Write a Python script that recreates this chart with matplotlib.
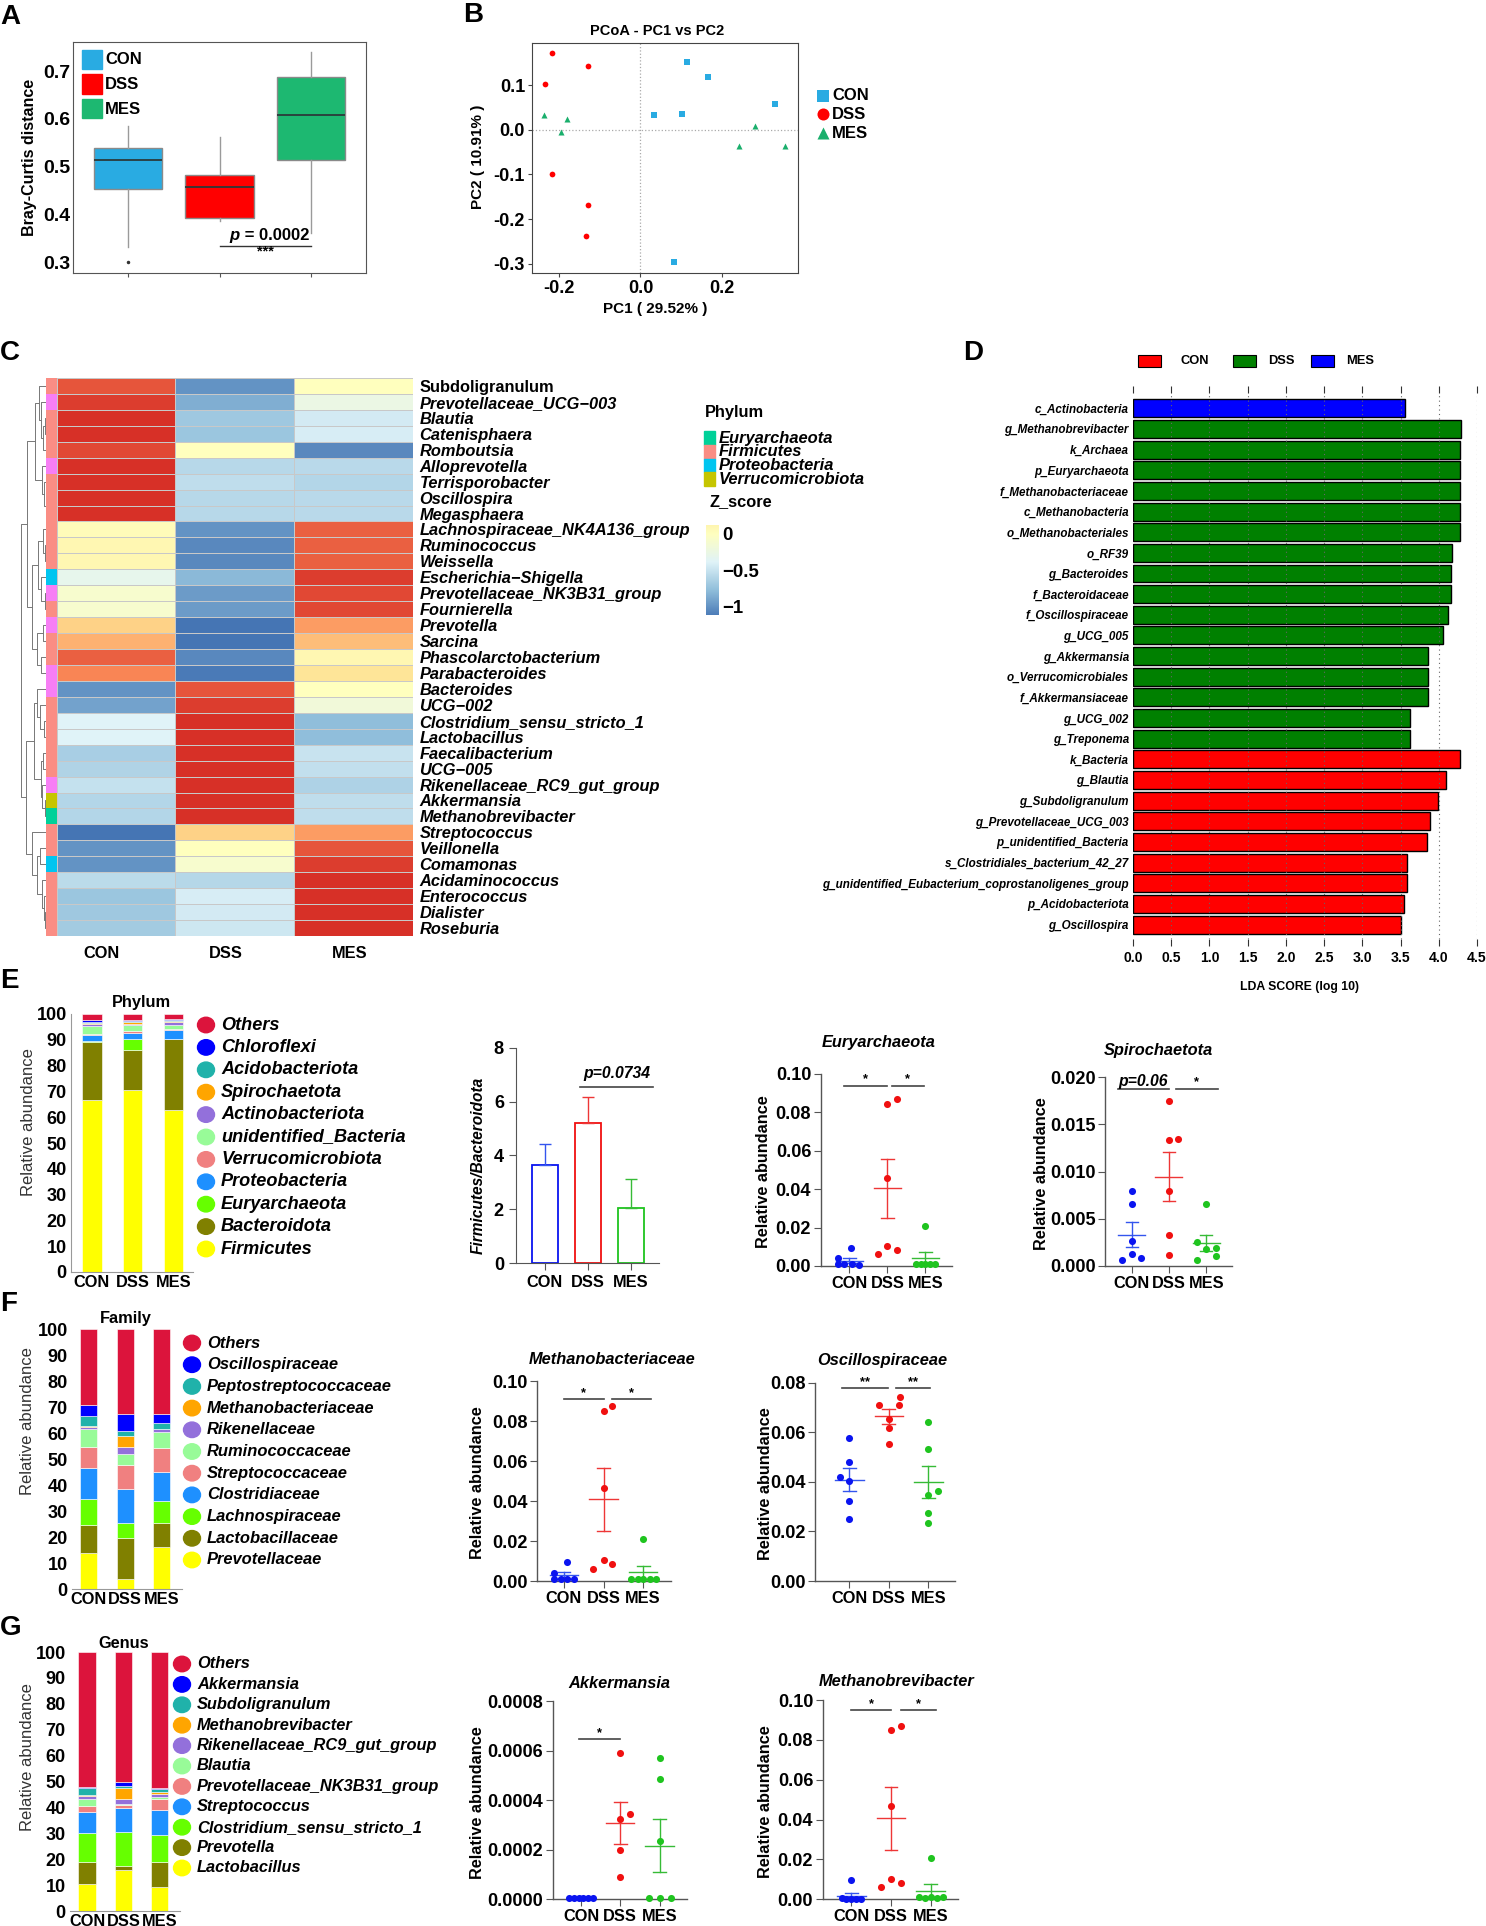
import numpy as np
import matplotlib
matplotlib.use("Agg")
import matplotlib.pyplot as plt
from matplotlib import font_manager
from matplotlib.patches import Ellipse, Rectangle
from matplotlib.colors import LinearSegmentedColormap, Normalize

W, H = 1486, 1926

_names = {f.name for f in font_manager.fontManager.ttflist}
if "Liberation Sans Narrow" in _names:
    NARROW, K = "Liberation Sans Narrow", 1.0
else:
    NARROW, K = "Liberation Sans", 0.84
REG = "Liberation Sans"
plt.rcParams["font.family"] = [REG, "DejaVu Sans"]

groups = ["CON", "DSS", "MES"]

# ---------------- A: Bray-Curtis distance (box summaries)
bc_q1 = [0.454, 0.392, 0.513]
bc_med = [0.513, 0.457, 0.607]
bc_q3 = [0.539, 0.482, 0.688]
bc_whislo = [0.332, 0.386, 0.360]
bc_whishi = [0.585, 0.561, 0.739]
bc_fliers = [[0.300], [], []]

# ---------------- B: PCoA
pc_con_x = [0.114, 0.164, 0.033, 0.101, 0.328, 0.082]
pc_con_y = [0.152, 0.118, 0.034, 0.035, 0.059, -0.297]
pc_dss_x = [-0.217, -0.128, -0.233, -0.215, -0.127, -0.133]
pc_dss_y = [0.173, 0.144, 0.103, -0.100, -0.168, -0.238]
pc_mes_x = [-0.235, -0.180, -0.193, 0.281, 0.241, 0.353]
pc_mes_y = [0.034, 0.025, -0.005, 0.008, -0.035, -0.036]

# ---------------- C: heatmap (z-scores)
genera = ["Subdoligranulum", "Prevotellaceae_UCG\u2212003", "Blautia", "Catenisphaera",
          "Romboutsia", "Alloprevotella", "Terrisporobacter", "Oscillospira", "Megasphaera",
          "Lachnospiraceae_NK4A136_group", "Ruminococcus", "Weissella",
          "Escherichia\u2212Shigella", "Prevotellaceae_NK3B31_group", "Fournierella",
          "Prevotella", "Sarcina", "Phascolarctobacterium", "Parabacteroides", "Bacteroides",
          "UCG\u2212002", "Clostridium_sensu_stricto_1", "Lactobacillus", "Faecalibacterium",
          "UCG\u2212005", "Rikenellaceae_RC9_gut_group", "Akkermansia", "Methanobrevibacter",
          "Streptococcus", "Veillonella", "Comamonas", "Acidaminococcus", "Enterococcus",
          "Dialister", "Roseburia"]
z_con = [1.00, 1.10, 1.15, 1.15, 1.05, 1.15, 1.15, 1.15, 1.15, 0.05, 0.10, 0.10, -0.30,
         -0.10, -0.10, 0.45, 0.60, 0.95, 0.80, -1.00, -0.92, -0.38, -0.38, -0.65, -0.62,
         -0.52, -0.60, -0.60, -1.15, -1.00, -1.00, -0.56, -0.72, -0.70, -0.68]
z_dss = [-1.00, -0.85, -0.70, -0.72, 0.00, -0.58, -0.55, -0.58, -0.58, -1.00, -1.05, -1.05,
         -0.80, -0.95, -0.95, -1.15, -1.15, -1.05, -1.12, 1.00, 1.10, 1.15, 1.15, 1.15, 1.15,
         1.15, 1.15, 1.15, 0.45, 0.00, -0.10, -0.59, -0.43, -0.45, -0.47]
z_mes = [0.00, -0.25, -0.45, -0.43, -1.05, -0.57, -0.60, -0.57, -0.57, 0.95, 0.95, 0.95,
         1.10, 1.05, 1.05, 0.70, 0.55, 0.10, 0.32, 0.00, -0.18, -0.77, -0.77, -0.50, -0.53,
         -0.63, -0.55, -0.55, 0.70, 1.00, 1.10, 1.15, 1.15, 1.15, 1.15]
row_phylum = ["Firmicutes", "Bacteroidota", "Firmicutes", "Firmicutes", "Firmicutes",
              "Bacteroidota", "Firmicutes", "Firmicutes", "Firmicutes", "Firmicutes",
              "Firmicutes", "Firmicutes", "Proteobacteria", "Bacteroidota", "Firmicutes",
              "Bacteroidota", "Firmicutes", "Firmicutes", "Bacteroidota", "Bacteroidota",
              "Firmicutes", "Firmicutes", "Firmicutes", "Firmicutes", "Firmicutes",
              "Bacteroidota", "Verrucomicrobiota", "Euryarchaeota", "Firmicutes", "Firmicutes",
              "Proteobacteria", "Firmicutes", "Firmicutes", "Firmicutes", "Firmicutes"]
legend_phyla = ["Euryarchaeota", "Firmicutes", "Proteobacteria", "Verrucomicrobiota"]
# row clustering (height, left, right)
clA = (0.45, (0.30, 0, (0.22, 1, (0.12, (0.06, 2, 3), 4))), (0.18, 5, (0.08, 6, (0.03, 7, 8))))
clB = (0.55, (0.32, (0.12, 9, (0.05, 10, 11)), (0.22, 12, (0.06, 13, 14))),
       (0.35, (0.15, 15, 16), (0.22, 17, 18)))
clC = (0.50, (0.38, 19, (0.25, 20, (0.10, 21, 22))),
       (0.22, (0.12, 23, 24), (0.16, 25, (0.06, 26, 27))))
clD = (0.55, 28, (0.38, (0.25, 29, 30), (0.18, 31, (0.10, 32, (0.05, 33, 34)))))
row_tree = (1.0, (0.75, clA, clB), (0.8, clC, clD))

# ---------------- D: LEfSe
lda_labels = ["c_Actinobacteria", "g_Methanobrevibacter", "k_Archaea", "p_Euryarchaeota",
              "f_Methanobacteriaceae", "c_Methanobacteria", "o_Methanobacteriales", "o_RF39",
              "g_Bacteroides", "f_Bacteroidaceae", "f_Oscillospiraceae", "g_UCG_005",
              "g_Akkermansia", "o_Verrucomicrobiales", "f_Akkermansiaceae", "g_UCG_002",
              "g_Treponema", "k_Bacteria", "g_Blautia", "g_Subdoligranulum",
              "g_Prevotellaceae_UCG_003", "p_unidentified_Bacteria",
              "s_Clostridiales_bacterium_42_27",
              "g_unidentified_Eubacterium_coprostanoligenes_group", "p_Acidobacteriota",
              "g_Oscillospira"]
lda_scores = [3.56, 4.285, 4.28, 4.28, 4.28, 4.28, 4.28, 4.17, 4.16, 4.16, 4.12, 4.05,
              3.86, 3.86, 3.86, 3.62, 3.62, 4.28, 4.10, 3.99, 3.88, 3.84, 3.59, 3.59,
              3.54, 3.51]
lda_group = ["MES"] + ["DSS"] * 16 + ["CON"] * 9

# ---------------- E/F/G: stacked composition (%)
phylum_names = ["Firmicutes", "Bacteroidota", "Euryarchaeota", "Proteobacteria",
                "Verrucomicrobiota", "unidentified_Bacteria", "Actinobacteriota",
                "Spirochaetota", "Acidobacteriota", "Chloroflexi", "Others"]
phylum_con = [66.6, 22.7, 0.3, 2.3, 0.4, 3.0, 1.0, 0.3, 0.4, 0.5, 2.5]
phylum_dss = [70.5, 15.5, 4.2, 2.4, 1.0, 2.0, 0.5, 0.7, 0.4, 0.5, 2.3]
phylum_mes = [62.7, 27.6, 0.2, 3.4, 0.3, 1.4, 1.2, 0.3, 0.5, 0.4, 2.0]

family_names = ["Prevotellaceae", "Lactobacillaceae", "Lachnospiraceae", "Clostridiaceae",
                "Streptococcaceae", "Ruminococcaceae", "Rikenellaceae", "Methanobacteriaceae",
                "Peptostreptococcaceae", "Oscillospiraceae", "Others"]
family_con = [14.0, 10.5, 10.2, 11.7, 8.1, 6.9, 1.1, 0.2, 3.9, 4.0, 29.4]
family_dss = [3.9, 15.6, 5.8, 13.0, 9.5, 4.1, 2.8, 4.1, 1.9, 6.5, 32.8]
family_mes = [16.1, 9.3, 8.4, 11.2, 9.3, 5.9, 1.2, 0.2, 2.1, 3.7, 32.6]

genus_names = ["Lactobacillus", "Prevotella", "Clostridium_sensu_stricto_1", "Streptococcus",
               "Prevotellaceae_NK3B31_group", "Blautia", "Rikenellaceae_RC9_gut_group",
               "Methanobrevibacter", "Subdoligranulum", "Akkermansia", "Others"]
genus_con = [10.3, 8.6, 11.2, 8.1, 2.3, 2.9, 1.0, 0.3, 2.8, 0.2, 52.3]
genus_dss = [15.7, 1.5, 13.2, 9.4, 1.0, 0.4, 2.2, 4.2, 0.7, 1.4, 50.3]
genus_mes = [9.3, 9.6, 10.4, 9.6, 4.2, 0.9, 1.0, 0.8, 1.4, 0.4, 52.4]

# Firmicutes/Bacteroidota ratio
fb_mean = [3.65, 5.19, 2.06]
fb_sem = [0.77, 0.97, 1.06]

# per-animal relative abundances
eury_con = [0.0043, 0.0095, 0.0010, 0.0008, 0.0010, 0.0005]
eury_dss = [0.0845, 0.0870, 0.0460, 0.0106, 0.0060, 0.0083]
eury_mes = [0.0208, 0.0009, 0.0008, 0.0010, 0.0009, 0.0008]
spiro_con = [0.0080, 0.0066, 0.0026, 0.0013, 0.0009, 0.0006]
spiro_dss = [0.0175, 0.0134, 0.0135, 0.0079, 0.0033, 0.0012]
spiro_mes = [0.0066, 0.0025, 0.0018, 0.0019, 0.0011, 0.0006]
mbac_con = [0.0042, 0.0095, 0.0012, 0.0012, 0.0012, 0.0012]
mbac_dss = [0.0850, 0.0875, 0.0467, 0.0107, 0.0062, 0.0085]
mbac_mes = [0.0208, 0.0012, 0.0012, 0.0012, 0.0012, 0.0012]
osc_con = [0.0575, 0.0479, 0.0421, 0.0405, 0.0324, 0.0250]
osc_dss = [0.0742, 0.0710, 0.0709, 0.0653, 0.0617, 0.0553]
osc_mes = [0.0641, 0.0534, 0.0347, 0.0364, 0.0273, 0.0235]
akk_con = [0.000004, 0.000004, 0.000004, 0.000004, 0.000004, 0.000004]
akk_dss = [0.000589, 0.000343, 0.000324, 0.000199, 0.000089]
akk_mes = [0.000571, 0.000484, 0.000235, 0.000004, 0.000004, 0.000004]
mbrev_con = [0.0095, 0.0005, 0.0003, 0.0002, 0.0002, 0.0003]
mbrev_dss = [0.0848, 0.0870, 0.0467, 0.0104, 0.0062, 0.0082]
mbrev_mes = [0.0209, 0.0010, 0.0008, 0.0010, 0.0008, 0.0010]

# ---------------- styles
box_cols = ["#29ABE2", "#FF0000", "#1DB871"]
stack_cols = ["#FFFF00", "#808000", "#66FF00", "#1E90FF", "#F08080", "#98FB98",
              "#9370DB", "#FFA500", "#20B2AA", "#0000FF", "#DC143C"]
phy_col = {"Firmicutes": "#FA8D84", "Bacteroidota": "#F77EF5", "Proteobacteria": "#00C5F0",
           "Verrucomicrobiota": "#C5C500", "Euryarchaeota": "#00D199"}
lda_col = {"CON": "#FF0000", "DSS": "#008000", "MES": "#0000FF"}
dot_cols = ["#0A14F0", "#F01010", "#1FC41F"]
err_cols = ["#3355EE", "#EE3636", "#36BB36"]

fig = plt.figure(figsize=(W / 100, H / 100), dpi=100)


def add_ax(x0, y0, x1, y1):
    return fig.add_axes([x0 / W, 1 - y1 / H, (x1 - x0) / W, (y1 - y0) / H])


ov = add_ax(0, 0, W, H)
ov.set_xlim(0, W)
ov.set_ylim(H, 0)
ov.axis("off")
ov.set_zorder(10)


def T(x, y, s, size, family=None, weight="bold", style="normal", ha="left", va="center",
      rot=0, color="black"):
    ov.text(x, y, s, fontsize=size, family=family or NARROW, fontweight=weight,
            fontstyle=style, ha=ha, va=va, rotation=rot, color=color)


def nfont(size, style="normal", weight="bold"):
    return dict(fontsize=size, family=NARROW, fontweight=weight, fontstyle=style)


# panel letters
for lab, x, y in [("A", 0, 17), ("B", 463, 15), ("C", 0, 353), ("D", 963, 353),
                  ("E", 0, 981), ("F", 0, 1304), ("G", 0, 1628)]:
    T(x, y, lab, 20, family=REG)

# ================= A
axA = add_ax(73, 42, 366, 273)
statsA = [dict(med=bc_med[i], q1=bc_q1[i], q3=bc_q3[i], whislo=bc_whislo[i],
               whishi=bc_whishi[i], fliers=bc_fliers[i]) for i in range(3)]
bp = axA.bxp(statsA, positions=[1, 2, 3], widths=0.745, patch_artist=True, showcaps=False,
             boxprops=dict(edgecolor="#8a8a8a", linewidth=1.0),
             medianprops=dict(color="#2b3a3a", linewidth=1.3),
             whiskerprops=dict(color="#9a9a9a", linewidth=1.0),
             flierprops=dict(marker="o", markersize=1.5, markerfacecolor="#333",
                             markeredgecolor="#333"))
for patch, c in zip(bp["boxes"], box_cols):
    patch.set_facecolor(c)
axA.set_xlim(0.4, 3.6)
axA.set_ylim(0.277, 0.761)
axA.set_yticks([0.3, 0.4, 0.5, 0.6, 0.7], labels=["0.3", "0.4", "0.5", "0.6", "0.7"],
               fontsize=14, fontweight="bold")
axA.set_xticks([1, 2, 3], labels=["", "", ""])
for s in axA.spines.values():
    s.set_color("#555555")
axA.tick_params(color="#555555", length=3)
axA.tick_params(axis="y", length=0, pad=2)
axA.plot([2, 3], [0.334, 0.334], color="#333333", lw=1)
axA.text(2.22, 0.356, "p", fontsize=12, fontweight="bold", fontstyle="italic", ha="right",
         va="center")
axA.text(2.22, 0.356, " = 0.0002", fontsize=12, fontweight="bold", ha="left", va="center")
axA.text(2.5, 0.322, "***", fontsize=10.5, fontweight="bold", ha="center", va="center")
T(30, 157, "Bray-Curtis distance", 11.5, family=REG, rot=90, ha="center")
for i, (g, c) in enumerate(zip(groups, box_cols)):
    y = 60 + i * 24.5
    ov.add_patch(Rectangle((82, y - 10), 19.5, 19.5, color=c))
    T(105, y, g, 12, family=REG)

# ================= B
axB = add_ax(532, 43, 798, 273)
axB.axhline(0, color="#aaaaaa", ls=":", lw=0.9)
axB.axvline(0, color="#aaaaaa", ls=":", lw=0.9)
axB.scatter(pc_con_x, pc_con_y, marker="s", s=15, color="#29ABE2", lw=0)
axB.scatter(pc_dss_x, pc_dss_y, marker="o", s=17, color="#FF0000", lw=0)
axB.scatter(pc_mes_x, pc_mes_y, marker="^", s=19, color="#1AAF6C", lw=0)
axB.set_xlim(-0.265, 0.385)
axB.set_ylim(-0.321, 0.195)
axB.set_xticks([-0.2, 0.0, 0.2], labels=["-0.2", "0.0", "0.2"], fontsize=13,
               fontweight="bold")
axB.set_yticks([0.1, 0.0, -0.1, -0.2, -0.3], labels=["0.1", "0.0", "-0.1", "-0.2", "-0.3"],
               fontsize=13, fontweight="bold")
for s in axB.spines.values():
    s.set_color("#444444")
axB.tick_params(color="#444444", length=3, pad=2)
T(657, 31, "PCoA - PC1 vs PC2", 12.5 * K, ha="center")
T(655, 309, "PC1 ( 29.52% )", 11, family=REG, ha="center")
T(478, 157, "PC2 ( 10.91% )", 11, family=REG, ha="center", rot=90)
for i, (g, m) in enumerate(zip(groups, ["s", "o", "^"])):
    y = 95.7 + i * 18.8
    ov.scatter([822.7], [y], marker=m, s=75, color=["#29ABE2", "#FF0000", "#1AAF6C"][i],
               lw=0)
    T(832, y, g, 12, family=REG)

# ================= C heatmap
hm_cmap = LinearSegmentedColormap.from_list(
    "pheat", ["#4575B4", "#91BFDB", "#E0F3F8", "#FFFFBF", "#FEE090", "#FC8D59", "#D73027"])
hm_norm = Normalize(-1.155, 1.155)
Z = np.column_stack([z_con, z_dss, z_mes])
nrow = len(genera)
hx = add_ax(56.8, 378, 412.6, 936)
hx.pcolormesh(np.arange(4), np.arange(nrow + 1), Z, cmap=hm_cmap, norm=hm_norm,
              edgecolors="#C8C8C8", linewidth=0.4)
hx.set_xlim(0, 3)
hx.set_ylim(nrow, 0)
for s in hx.spines.values():
    s.set_visible(False)
hx.yaxis.tick_right()
hx.set_yticks(np.arange(nrow) + 0.5, labels=genera, **nfont(14 * K, "italic"))
for t in hx.get_yticklabels():
    if t.get_text() == "Subdoligranulum":
        t.set_fontstyle("normal")
hx.set_xticks([])
hx.tick_params(axis="y", length=0, pad=5)
for g, x in zip(groups, [102, 226, 350]):
    T(x, 953, g, 14 * K, ha="center")

sx = add_ax(46.5, 378, 56.8, 936)
sx.barh(np.arange(nrow) + 0.5, [1] * nrow, height=1.0,
        color=[phy_col[p] for p in row_phylum])
sx.set_xlim(0, 1)
sx.set_ylim(nrow, 0)
sx.axis("off")

tx = add_ax(20, 378, 46.5, 936)


def draw_tree(ax, node):
    if isinstance(node, int):
        return node + 0.5, 0.0
    h, left, right = node
    y1, h1 = draw_tree(ax, left)
    y2, h2 = draw_tree(ax, right)
    ax.plot([h1, h, h, h2], [y1, y1, y2, y2], color="#777777", lw=0.7)
    return (y1 + y2) / 2, h


draw_tree(tx, row_tree)
tx.set_xlim(1.02, 0)
tx.set_ylim(nrow, 0)
tx.axis("off")

T(705, 413, "Phylum", 14 * K)
for i, p in enumerate(legend_phyla):
    y = 438 + i * 13.8
    ov.add_patch(Rectangle((704, y - 6.9), 11, 13.8, color=phy_col[p]))
    T(719, y, p, 14.2 * K, style="italic")
T(709, 502, "Z_score", 14 * K)
cax = add_ax(705.5, 525, 718, 615)
cax.imshow(np.linspace(0.12, -1.11, 200)[:, None], aspect="auto", cmap=hm_cmap,
           norm=hm_norm, extent=[0, 1, -1.11, 0.12])
cax.set_xticks([])
cax.yaxis.tick_right()
cax.set_yticks([0, -0.5, -1], labels=["0", "\u22120.5", "\u22121"], **nfont(16 * K))
cax.tick_params(axis="y", length=0, pad=3)
for s in cax.spines.values():
    s.set_visible(False)

# ================= D LEfSe
dax = add_ax(1133, 393, 1477, 939)
yy = np.arange(len(lda_labels))
dax.barh(yy, lda_scores, height=0.87, color=[lda_col[g] for g in lda_group],
         edgecolor="black", lw=1.0, zorder=2)
for v in np.arange(0.5, 4.51, 0.5):
    dax.axvline(v, color="#666666", ls=(0, (1, 3)), lw=0.8, zorder=3)
dax.set_xlim(0, 4.5)
dax.set_ylim(len(lda_labels) - 0.3, -0.74)
dax.set_yticks(yy, labels=lda_labels, **nfont(10 * K, "italic"))
xt = np.arange(0, 4.51, 0.5)
dax.set_xticks(xt, labels=["%.1f" % v for v in xt], **nfont(12 * K))
dax.tick_params(axis="y", length=0, pad=3)
dax.tick_params(axis="x", top=True, length=5, color="#333333", width=0.8)
for s in dax.spines.values():
    s.set_visible(False)
T(1299, 987, "LDA SCORE (log 10)", 10.5 * K, ha="center")
for (g, bx, tx_) in [("CON", 1138, 1195), ("DSS", 1233, 1281), ("MES", 1311, 1360)]:
    ov.add_patch(Rectangle((bx, 355), 23, 12, facecolor=lda_col[g], edgecolor="black",
                           lw=0.8))
    T(tx_, 361, g, 11 * K, ha="center")


# ================= stacked bars
def stacked(box, comps, xlim, width, title, title_xy, names, leg_x, leg_y0, leg_dy,
            leg_size, spine_left=True):
    ax = add_ax(*box)
    M = np.array(comps)
    bottom = np.zeros(3)
    for j in range(M.shape[1]):
        ax.bar([0, 1, 2], M[:, j], bottom=bottom, width=width, color=stack_cols[j],
               edgecolor="white", lw=0.4)
        bottom += M[:, j]
    ax.set_xlim(*xlim)
    ax.set_ylim(0, 100)
    ax.set_yticks(np.arange(0, 101, 10), labels=[str(v) for v in range(0, 101, 10)],
                  **nfont(15.5 * K))
    ax.set_xticks([0, 1, 2], labels=groups, **nfont(14 * K))
    for s in ["top", "right"]:
        ax.spines[s].set_visible(False)
    ax.spines["bottom"].set_color("#999999")
    ax.spines["left"].set_color("#999999")
    ax.spines["left"].set_visible(spine_left)
    ax.tick_params(axis="x", length=0, pad=2)
    ax.tick_params(axis="y", length=0, pad=3)
    T(title_xy[0], title_xy[1], title, 14 * K, ha="center")
    for i, (nm, c) in enumerate(zip(names[::-1], stack_cols[::-1])):
        y = leg_y0 + i * leg_dy
        ov.add_patch(Ellipse((leg_x, y), 17, 15.5, color=c))
        T(leg_x + 15, y, nm, leg_size * K, style="italic")
    return ax


stacked((70.8, 1014, 193.5, 1272), [phylum_con, phylum_dss, phylum_mes], (-0.52, 2.49),
        0.47, "Phylum", (141, 1002), phylum_names, 206, 1025, 22.4, 15.5)
T(29, 1122, "Relative abundance", 12, family=REG, weight="normal", rot=90, ha="center",
  color="#333333")
stacked((72, 1329, 182, 1589), [family_con, family_dss, family_mes], (-0.46, 2.56),
        0.47, "Family", (126, 1319), family_names, 192, 1343, 21.7, 14.2, spine_left=False)
T(28, 1421, "Relative abundance", 12, family=REG, weight="normal", rot=90, ha="center",
  color="#333333")
stacked((70, 1652, 180, 1911), [genus_con, genus_dss, genus_mes], (-0.48, 2.57),
        0.49, "Genus", (124, 1643), genus_names, 182, 1664, 20.4, 14, spine_left=False)
T(28, 1757, "Relative abundance", 12, family=REG, weight="normal", rot=90, ha="center",
  color="#333333")

# ================= Firmicutes / Bacteroidota
fbx = add_ax(515.8, 1047.7, 659.3, 1263.3)
for i in range(3):
    fbx.bar(i, fb_mean[i], width=0.6, facecolor="none", edgecolor=dot_cols[i], lw=1.3)
    fbx.errorbar(i, fb_mean[i], yerr=[[0], [fb_sem[i]]], fmt="none", ecolor=err_cols[i],
                 elinewidth=1.0, capsize=4, capthick=1.0)
fbx.set_xlim(-0.67, 2.66)
fbx.set_ylim(0, 8)
fbx.set_yticks([0, 2, 4, 6, 8], labels=["0", "2", "4", "6", "8"], **nfont(15.5 * K))
fbx.set_xticks([0, 1, 2], labels=groups, **nfont(14 * K))
for s in ["top", "right"]:
    fbx.spines[s].set_visible(False)
for s in ["left", "bottom"]:
    fbx.spines[s].set_color("#555555")
fbx.tick_params(color="#555555", length=5)
fbx.plot([0.83, 2.51], [6.55, 6.55], color="#444444", lw=1.2, clip_on=False)
fbx.text(1.67, 6.75, "p=0.0734", ha="center", va="bottom", **nfont(13.5 * K, "italic"))
T(478, 1165, "Firmicutes/Bacteroidota", 11.2, family=REG, style="italic", rot=90,
  ha="center")


# ================= dot plots
def dot_panel(box, data, offs, xlim, ticks, tick_fmt, title, title_xy, ylab_x, sigs,
              star_size=11):
    ax = add_ax(*box)
    for i, (vals, o) in enumerate(zip(data, offs)):
        vals = np.asarray(vals)
        m = vals.mean()
        se = vals.std(ddof=1) / np.sqrt(len(vals))
        c = err_cols[i]
        ax.plot([i - 0.36, i + 0.36], [m, m], color=c, lw=1.0, zorder=2)
        ax.plot([i, i], [m - se, m + se], color=c, lw=1.0, zorder=2)
        for yv in (m - se, m + se):
            ax.plot([i - 0.16, i + 0.16], [yv, yv], color=c, lw=1.0, zorder=2)
        ax.scatter(i + np.asarray(o), vals, s=26, color=dot_cols[i], lw=0, zorder=3,
                   clip_on=False)
    ax.set_xlim(*xlim)
    ax.set_ylim(ticks[0], ticks[-1])
    ax.set_yticks(ticks, labels=[tick_fmt % v for v in ticks], **nfont(15.5 * K))
    ax.set_xticks([0, 1, 2], labels=groups, **nfont(14 * K))
    for s in ["top", "right"]:
        ax.spines[s].set_visible(False)
    for s in ["left", "bottom"]:
        ax.spines[s].set_color("#555555")
        ax.spines[s].set_linewidth(1.0)
    ax.tick_params(color="#555555", length=5, pad=2)
    for x0, x1, y, txt, it in sigs:
        ax.plot([x0, x1], [y, y], color="#444444", lw=1.2, clip_on=False)
        ax.text((x0 + x1) / 2, y, txt, ha="center", va="bottom", clip_on=False,
                **nfont((13.5 if it else star_size) * K, "italic" if it else "normal"))
    T(title_xy[0], title_xy[1], title, 14 * K, style="italic", ha="center")
    T(ylab_x, (box[1] + box[3]) / 2 + 2, "Relative abundance", 11.7, family=REG, rot=90,
      ha="center")
    return ax


eury_off = [[-0.31, 0.04, -0.31, -0.13, 0.06, 0.25], [0, 0.26, 0, 0, -0.25, 0.26],
            [0, -0.25, -0.13, 0, 0.13, 0.25]]
dot_panel((820.9, 1074, 951.7, 1266), [eury_con, eury_dss, eury_mes], eury_off,
          (-0.75, 2.69), [0, 0.02, 0.04, 0.06, 0.08, 0.10], "%.2f", "Euryarchaeota",
          (879, 1043), 764, [(-0.13, 1.0, 0.094, "*", False), (1.11, 1.95, 0.094, "*", False)])
spiro_off = [[0, 0, 0, 0, 0.25, -0.25], [0, 0, 0.25, 0, 0, 0],
             [0, -0.25, 0, 0.25, 0.25, -0.25]]
dot_panel((1105.4, 1077.3, 1232.4, 1266), [spiro_con, spiro_dss, spiro_mes], spiro_off,
          (-0.70, 2.70), [0, 0.005, 0.010, 0.015, 0.020], "%.3f", "Spirochaetota",
          (1158, 1051), 1041, [(-0.36, 1.0, 0.0188, "p=0.06", True),
                               (1.18, 2.32, 0.0188, "*", False)])
mbac_off = [[-0.25, 0.08, -0.25, -0.08, 0.08, 0.25], [0, 0.22, 0, 0, -0.27, 0.22],
            [0, -0.3, -0.14, 0, 0.16, 0.32]]
dot_panel((537, 1381, 670.9, 1581), [mbac_con, mbac_dss, mbac_mes], mbac_off,
          (-0.68, 2.70), [0, 0.02, 0.04, 0.06, 0.08, 0.10], "%.2f", "Methanobacteriaceae",
          (612, 1360), 477, [(0.0, 1.0, 0.091, "*", False), (1.21, 2.21, 0.091, "*", False)])
osc_off = [[0, 0, -0.24, 0, 0, 0], [0.29, -0.25, 0.25, 0, 0, 0], [0, 0, 0, 0.25, 0, 0]]
dot_panel((815.3, 1382.7, 954.8, 1581), [osc_con, osc_dss, osc_mes], osc_off,
          (-0.86, 2.67), [0, 0.02, 0.04, 0.06, 0.08], "%.2f", "Oscillospiraceae",
          (882, 1361), 765, [(-0.19, 0.97, 0.0777, "**", False),
                             (1.17, 2.03, 0.0777, "**", False)])
akk_off = [[-0.3, -0.18, -0.06, 0.06, 0.18, 0.3], [0, 0.25, 0, 0, 0],
           [0, 0, 0, -0.28, 0, 0.28]]
dot_panel((552.8, 1701, 686.6, 1899.3), [akk_con, akk_dss, akk_mes], akk_off,
          (-0.72, 2.69), [0, 0.0002, 0.0004, 0.0006, 0.0008], "%.4f", "Akkermansia",
          (619, 1683), 477, [(-0.05, 1.0, 0.000647, "*", False)])
mbrev_off = [[0, -0.24, -0.12, 0, 0.12, 0.24], [0, 0.25, 0, 0, -0.25, 0.25],
             [0, -0.3, -0.15, 0, 0.15, 0.3]]
dot_panel((822.9, 1700, 957.9, 1899.3), [mbrev_con, mbrev_dss, mbrev_mes], mbrev_off,
          (-0.71, 2.68), [0, 0.02, 0.04, 0.06, 0.08, 0.10], "%.2f", "Methanobrevibacter",
          (897, 1681), 765, [(0.0, 1.0, 0.095, "*", False), (1.24, 2.13, 0.095, "*", False)])

fig.savefig("out.png", dpi=100)
